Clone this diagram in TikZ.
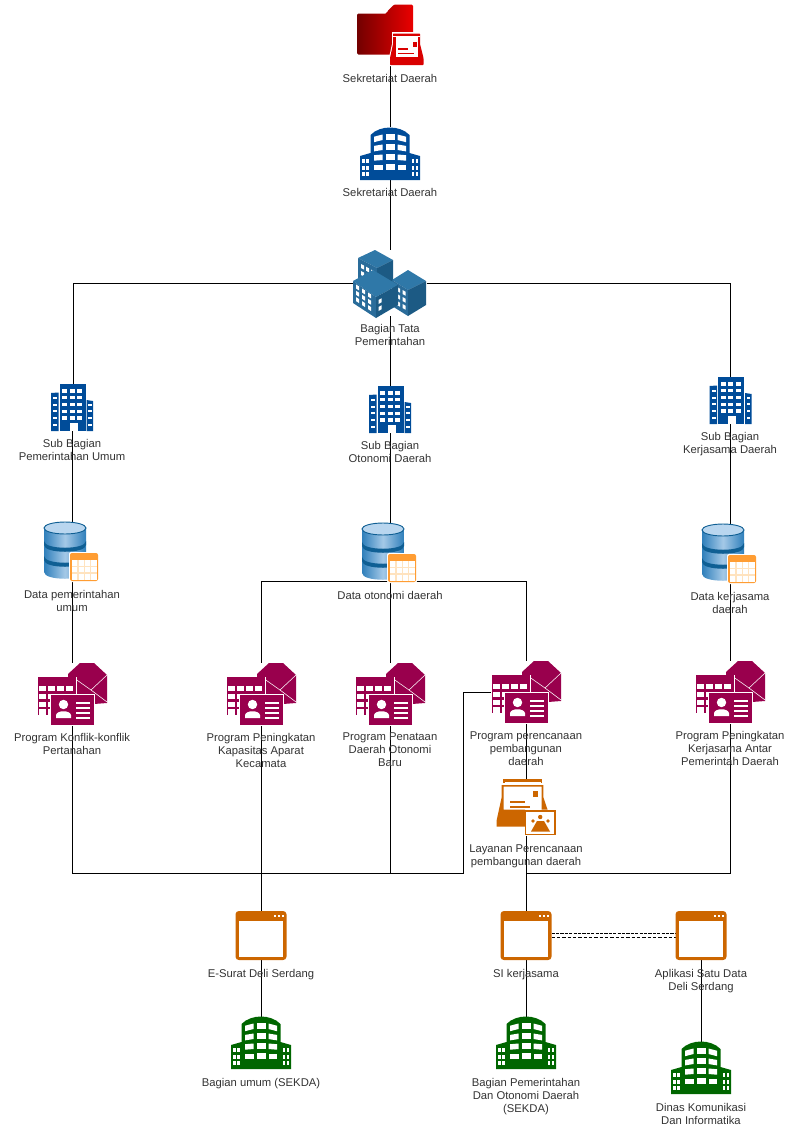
\documentclass[tikz,border=0pt]{standalone}
\usepackage{fontspec}
\setmainfont{Liberation Sans}
\usetikzlibrary{positioning}
\definecolor{towerblue}{HTML}{004C99}
\definecolor{towergreen}{HTML}{006600}
\definecolor{progred}{HTML}{99004D}
\definecolor{orangedark}{HTML}{CC6600}
\definecolor{tablefill}{HTML}{FF9D33}
\definecolor{tablepale}{HTML}{FFE3BF}
\definecolor{dbdark}{HTML}{0F5F94}
\definecolor{dbmid}{HTML}{2F7FBB}
\definecolor{dblight}{HTML}{B9D6EF}
\definecolor{isotop}{HTML}{2F78A8}
\definecolor{isoleft}{HTML}{2A6C9A}
\definecolor{isoside}{HTML}{1C5A84}
\definecolor{captiongray}{HTML}{333333}
\tikzset{
  pics/towericon/.style={code={
    \begin{scope}[shift={(-30,-26.5)}]
      \fill[#1] (0,29) -- (10.5,26) -- (10.5,8) .. controls (20,-2) and (40,-2) .. (49.5,8) -- (49.5,26) -- (60,29) -- (60,53) -- (0,53) -- cycle;
      \foreach \r/\s in {0/2.2,10/1.4,20/.7,30/0}{
        \fill[white] (14,7.5+\r+\s) -- (22.5,7.5+\r) -- (22.5,13+\r) -- (14,13+\r+\s) -- cycle;
        \fill[white] (25.5,7+\r) -- (34.5,7+\r) -- (34.5,12.5+\r) -- (25.5,12.5+\r) -- cycle;
        \fill[white] (37.5,7.5+\r) -- (46,7.5+\r+\s) -- (46,13+\r+\s) -- (37.5,13+\r) -- cycle;
      }
      \foreach \r in {0,6.5,13}{
        \fill[white] (2,32+\r) rectangle (4.5,36+\r);
        \fill[white] (6,32+\r) rectangle (8.5,36+\r);
        \fill[white] (51.5,32+\r) rectangle (54,36+\r);
        \fill[white] (55.5,32+\r) rectangle (58,36+\r);
      }
    \end{scope}
  }},
  pics/smalltower/.style={code={
    \begin{scope}[shift={(-21,-23.5)}]
      \fill[towerblue] (0,9) -- (7.5,8.5) -- (7.5,47) -- (0,47) -- cycle;
      \fill[towerblue] (8.5,0) rectangle (34.5,47);
      \fill[towerblue] (35.5,16) -- (42,17) -- (42,47) -- (35.5,47) -- cycle;
      \foreach \y in {5,11.5,18.5,25.5,32}{
        \foreach \x in {11.3,18.8,26.3} \fill[white] (\x,\y) rectangle ++(5,3.8);
      }
      \fill[white] (18.5,39) rectangle (26.5,47);
      \foreach \y in {13,19.5,26,33,39.5} \fill[white] (2,\y) rectangle ++(4,2);
      \foreach \y in {20,26,33,39.5} \fill[white] (37,\y) rectangle ++(3.5,2);
    \end{scope}
  }},
  pics/dbicon/.style={code={
    \begin{scope}[shift={(-28,-29.5)}]
      \shade[left color=dbmid,right color=dbmid,middle color=dblight!85!dbmid]
        (0,6) -- (0,50) .. controls (0,59) and (42,59) .. (42,50) -- (42,6) -- cycle;
      \foreach \y in {19,34}
        \fill[dbdark] (0,\y) .. controls (0,\y+9) and (42,\y+9) .. (42,\y) -- (42,\y+4) .. controls (42,\y+13) and (0,\y+13) .. (0,\y+4) -- cycle;
      \fill[dblight,draw=dbdark,line width=.7pt] (21,6) ellipse (21 and 6);
      % sheet
      \fill[white,rounded corners=1.5pt] (25,30) rectangle (55,60);
      \fill[tablefill,rounded corners=1.5pt] (26,31) rectangle (54,59);
      \fill[white] (27.5,38) rectangle (52.5,57.5);
      \foreach \x in {34,40.3,46.5} \draw[tablepale,line width=.8pt] (\x,38) -- (\x,57.5);
      \foreach \y in {44.5,51} \draw[tablepale,line width=.8pt] (27.5,\y) -- (52.5,\y);
    \end{scope}
  }},
  pics/programicon/.style={code={
    \begin{scope}[shift={(-35,-31)}]
      % envelope
      \fill[progred] (31,11) -- (43,0) -- (57,0) -- (70,12) -- (70,40) -- (31,43) -- cycle;
      \draw[white,line width=.4pt] (37,15) -- (54,27) -- (70,12);
      \draw[white,line width=.4pt] (54,27) -- (70,39);
      % table
      \fill[white] (0,13.5) rectangle (39.5,53);
      \fill[progred] (.5,14) rectangle (39,52);
      \foreach \y in {22.5,30.5,38.5,46}
        \foreach \x in {2.3,11.3,20.3,29.3}
          \fill[white] (\x,\y) rectangle ++(7,5.6);
      % card
      \fill[white] (12.5,30.5) rectangle (57.5,62.5);
      \fill[progred] (13.5,31.5) rectangle (56.5,61.5);
      \fill[white] (26.5,41.5) circle (4.7);
      \fill[white] (19,55) -- (19,52) .. controls (20,47) and (33,47) .. (34,52) -- (34,55) -- cycle;
      \foreach \y in {39,44,49,54} \fill[white] (39,\y) rectangle (53,\y+1.5);
    \end{scope}
  }},
  pics/windowicon/.style={code={
    \begin{scope}[shift={(-25.5,-24.5)}]
      \fill[orangedark,rounded corners=2.5pt] (0,0) rectangle (51,49);
      \fill[white] (3.5,10) rectangle (47.5,45.5);
      \foreach \x in {39,43,47} \fill[white] (\x-.5,3.5) rectangle ++(2,2);
    \end{scope}
  }},
  icon/.style={inner sep=0pt,outer sep=0pt,minimum width=#1*.75pt},
  caption/.style={inner sep=0pt,align=center,text=captiongray,font=\fontsize{8.45}{9.8}\selectfont},
  wire/.style={black,line width=.6pt}
}
\begin{document}
\begin{tikzpicture}[x=.75pt,y=-.75pt]
  \useasboundingbox (0,0) rectangle (785,1128);
  % icon places
  \node[icon=66,minimum height=45pt] (folder) at (390,35) {};
  \node[icon=60,minimum height=39.75pt] (sekda) at (390,153.5) {};
  \node[icon=73,minimum height=49.5pt] (tata) at (390,283) {};
  \node[icon=42,minimum height=35.25pt] (subumum) at (72,407.5) {};
  \node[icon=42,minimum height=35.25pt] (subotonomi) at (390,409.5) {};
  \node[icon=42,minimum height=35.25pt] (subkerja) at (730,400.5) {};
  \node[icon=56,minimum height=44.25pt] (dbumum) at (72,551.5) {};
  \node[icon=56,minimum height=42.75pt] (dbotonomi) at (390,552.5) {};
  \node[icon=56,minimum height=44.25pt] (dbkerja) at (730,553.5) {};
  \node[icon=70,minimum height=46.5pt] (konflik) at (72,694) {};
  \node[icon=70,minimum height=46.5pt] (kapasitas) at (261,694) {};
  \node[icon=70,minimum height=46.5pt] (penataan) at (390,694) {};
  \node[icon=70,minimum height=46.5pt] (perencanaan) at (526,692) {};
  \node[icon=70,minimum height=46.5pt] (antar) at (730,692) {};
  \node[icon=59,minimum height=42pt] (layanan) at (526,808) {};
  \node[icon=51,minimum height=36.75pt] (esurat) at (261,935.5) {};
  \node[icon=51,minimum height=36.75pt] (sikerja) at (526,935.5) {};
  \node[icon=51,minimum height=36.75pt] (satudata) at (701,935.5) {};
  \node[icon=60,minimum height=38.25pt] (umum) at (261,1042.5) {};
  \node[icon=60,minimum height=38.25pt] (pemerintahan) at (526,1042.5) {};
  \node[icon=60,minimum height=38.25pt] (dinas) at (701,1067.5) {};
  \coordinate (jog) at (463,873.7);
  % connectors
  \path[wire]
    (folder) edge (sekda)
    (sekda) edge (tata)
    (tata.west) edge[to path={-| ([xshift=1pt]\tikztotarget)}] (subumum.north)
    (tata.east) edge[to path={-| (\tikztotarget)}] (subkerja.north)
    (tata) edge (subotonomi)
    (subumum) edge (dbumum)
    (subotonomi) edge (dbotonomi)
    (subkerja) edge (dbkerja)
    (dbumum) edge (konflik)
    (dbotonomi) edge (penataan)
    (dbkerja) edge (antar)
    (dbotonomi.south) edge[to path={-| (\tikztotarget)}] (kapasitas.north)
    (dbotonomi.south) edge[to path={-| (\tikztotarget)}] (perencanaan.north)
    (kapasitas) edge (esurat)
    (perencanaan) edge (layanan)
    (layanan) edge (sikerja)
    (esurat) edge (umum)
    (sikerja) edge (pemerintahan)
    (satudata) edge (dinas);
  \draw[wire] (konflik.south) |- (jog) |- (perencanaan.west);
  \draw[wire] (penataan.south) -- (penataan.south |- jog);
  \draw[wire] (antar.south) |- (layanan.south |- jog);
  \draw[wire,dash pattern=on 2.5pt off .8pt] ([yshift=1.6pt]sikerja.east) -- ([yshift=1.6pt]satudata.west);
  \draw[wire,dash pattern=on 2.5pt off 1.5pt] ([yshift=-1.3pt]sikerja.east) -- ([yshift=-1.3pt]satudata.west);
  % icons
  \shade[left color=black!55!red,right color=red!92!black,rounded corners=1pt]
    (357,13.5) -- (357,54.5) -- (413,54.5) -- (413,4.5) -- (394,4.5) -- (387,11.5) -- (387,13.5) -- cycle;
  \fill[white] (388.5,66) -- (388.5,60) -- (392,44) -- (392,32) -- (421,32) -- (421,44) -- (424.5,60) -- (424.5,66) -- cycle;
  \fill[red!85!black,rounded corners=.5pt] (390,65) -- (390,58) -- (393,44) -- (393,33.5) -- (420,33.5) -- (420,44) -- (423.5,58) -- (423.5,65) -- cycle;
  \fill[white] (393,36) rectangle (420,37.3);
  \fill[white] (395.5,37.3) rectangle (418,57);
  \fill[red!85!black] (412.5,41.5) rectangle (416.5,47);
  \fill[red!85!black] (398,48) rectangle (408,49.5);
  \fill[red!85!black] (398,52.5) rectangle (414,54);
  \pic at (sekda) {towericon=towerblue};
  \begin{scope}[shift={(340,240)}]
    \fill[isotop] (18,18) -- (35,10) -- (53,20) -- (37,28) -- cycle;
    \fill[isoleft] (18,18) -- (37,28) -- (37,52) -- (18,42) -- cycle;
    \fill[isoside] (37,28) -- (53,20) -- (53,42) -- (37,52) -- cycle;
    \foreach \x/\y in {21/24,26/26.7,31/29.5,21/31,26/33.7,21/38}
      \fill[white] (\x,\y) -- ++(3,1.6) -- ++(0,4) -- ++(-3,-1.6) -- cycle;
    \fill[isotop] (52,40) -- (68,30) -- (86,41) -- (68,50) -- cycle;
    \fill[isoleft] (52,40) -- (68,50) -- (68,76) -- (52,66) -- cycle;
    \fill[isoside] (68,50) -- (86,41) -- (86,65) -- (68,76) -- cycle;
    \foreach \x/\y in {57/47,62.5/50,57/54,62.5/57,57/61,62.5/64}
      \fill[white] (\x,\y) -- ++(3,1.7) -- ++(0,4) -- ++(-3,-1.7) -- cycle;
    \fill[isotop] (13,41) -- (33,30) -- (58,45) -- (36,57) -- cycle;
    \fill[isoleft] (13,41) -- (36,57) -- (36,78) -- (13,63) -- cycle;
    \fill[isoside] (36,57) -- (58,45) -- (58,65) -- (36,78) -- cycle;
    \foreach \r in {0,6.3,12.6}{
      \fill[white] (16,\r+44.5) -- ++(3,1.9) -- ++(0,4) -- ++(-3,-1.9) -- cycle;
      \fill[white] (22,\r+48.5) -- ++(3,1.9) -- ++(0,4) -- ++(-3,-1.9) -- cycle;
      \fill[white] (28,\r+52.5) -- ++(3,1.9) -- ++(0,4) -- ++(-3,-1.9) -- cycle;
    }
    \foreach \y in {60,67} \fill[white] (38.5,\y) -- ++(3,-1.7) -- ++(0,4) -- ++(-3,1.7) -- cycle;
  \end{scope}
  \pic at (subumum) {smalltower};
  \pic at (subotonomi) {smalltower};
  \pic at ([xshift=.4pt]subkerja) {smalltower};
  \pic at (dbumum) {dbicon};
  \pic at (dbotonomi) {dbicon};
  \pic at (dbkerja) {dbicon};
  \pic at (konflik) {programicon};
  \pic at (kapasitas) {programicon};
  \pic at (penataan) {programicon};
  \pic at (perencanaan) {programicon};
  \pic at (antar) {programicon};
  % mail tray
  \fill[orangedark] (503,779.3) rectangle (542,781.7);
  \fill[orangedark] (503,779.3) rectangle (504.5,783);
  \fill[orangedark] (540.5,779.3) rectangle (542,783);
  \fill[white] (502,785) rectangle (543,812);
  \fill[orangedark] (501.7,785) -- (543.3,785) -- (543.3,797) -- (547.5,809.5) -- (541.5,809.5) -- (541.5,786.7) -- (503.5,786.7) -- (503.5,809.5) -- (525,809.5) -- (525,826.7) -- (496.7,826.7) -- (496.7,820) -- (501.7,797) -- cycle;
  \fill[orangedark] (532.7,791) rectangle (538.3,796.7);
  \fill[orangedark] (510,801) rectangle (525,802.7);
  \fill[orangedark] (510,806) rectangle (530,807.7);
  \draw[orangedark,fill=white,line width=1.1pt] (525.7,811) rectangle (555.2,834.7);
  \fill[orangedark] (540.2,817) circle (2.2);
  \fill[orangedark] (533,821) circle (1.8);
  \fill[orangedark] (548,821) circle (1.8);
  \fill[orangedark] (531,831.5) -- (537,821) -- (544,821) -- (550,831.5) -- cycle;
  \pic at (esurat) {windowicon};
  \pic at (sikerja) {windowicon};
  \pic at (satudata) {windowicon};
  \pic at (umum) {towericon=towergreen};
  \pic at (pemerintahan) {towericon=towergreen};
  \pic at (dinas) {towericon=towergreen};
  % captions
  \node[caption] (foldertext) [below=6.6pt of folder] {Sekretariat Daerah};
  \node[caption] (sekdatext) [below=5.8pt of sekda] {Sekretariat Daerah};
  \node[caption] (tatatext) [below=5.8pt of tata] {Bagian Tata\\Pemerintahan};
  \node[caption] (subumumtext) [below=6pt of subumum] {Sub Bagian\\Pemerintahan Umum};
  \node[caption] (subotonomitext) [below=6pt of subotonomi] {Sub Bagian\\Otonomi Daerah};
  \node[caption] (subkerjatext) [below=5.8pt of subkerja] {Sub Bagian\\Kerjasama Daerah};
  \node[caption] (dbumumtext) [below=6.5pt of dbumum] {Data pemerintahan\\umum};
  \node[caption] (dbotonomitext) [below=7.4pt of dbotonomi] {Data otonomi daerah};
  \node[caption] (dbkerjatext) [below=6.5pt of dbkerja] {Data kerjasama\\daerah};
  \node[caption] (konfliktext) [below=5.8pt of konflik] {Program Konflik-konflik\\Pertanahan};
  \node[caption] (kapasitastext) [below=5.8pt of kapasitas] {Program Peningkatan\\Kapasitas Aparat\\Kecamata};
  \node[caption] (penataantext) [below=5.8pt of penataan] {Program Penataan\\Daerah Otonomi\\Baru};
  \node[caption] (perencanaantext) [below=6pt of perencanaan] {Program perencanaan\\pembangunan\\daerah};
  \node[caption] (antartext) [below=5.8pt of antar] {Program Peningkatan\\Kerjasama Antar\\Pemerintah Daerah};
  \node[caption] (layanantext) [below=6.5pt of layanan] {Layanan Perencanaan\\pembangunan daerah};
  \node[caption] (esurattext) [below=6.5pt of esurat] {E-Surat Deli Serdang};
  \node[caption] (sikerjatext) [below=6.5pt of sikerja] {SI kerjasama};
  \node[caption] (satudatatext) [below=6.5pt of satudata] {Aplikasi Satu Data\\Deli Serdang};
  \node[caption] (umumtext) [below=7.2pt of umum] {Bagian umum (SEKDA)};
  \node[caption] (pemerintahantext) [below=7.2pt of pemerintahan] {Bagian Pemerintahan\\Dan Otonomi Daerah\\(SEKDA)};
  \node[caption] (dinastext) [below=7.2pt of dinas] {Dinas Komunikasi\\Dan Informatika};
\end{tikzpicture}
\end{document}
